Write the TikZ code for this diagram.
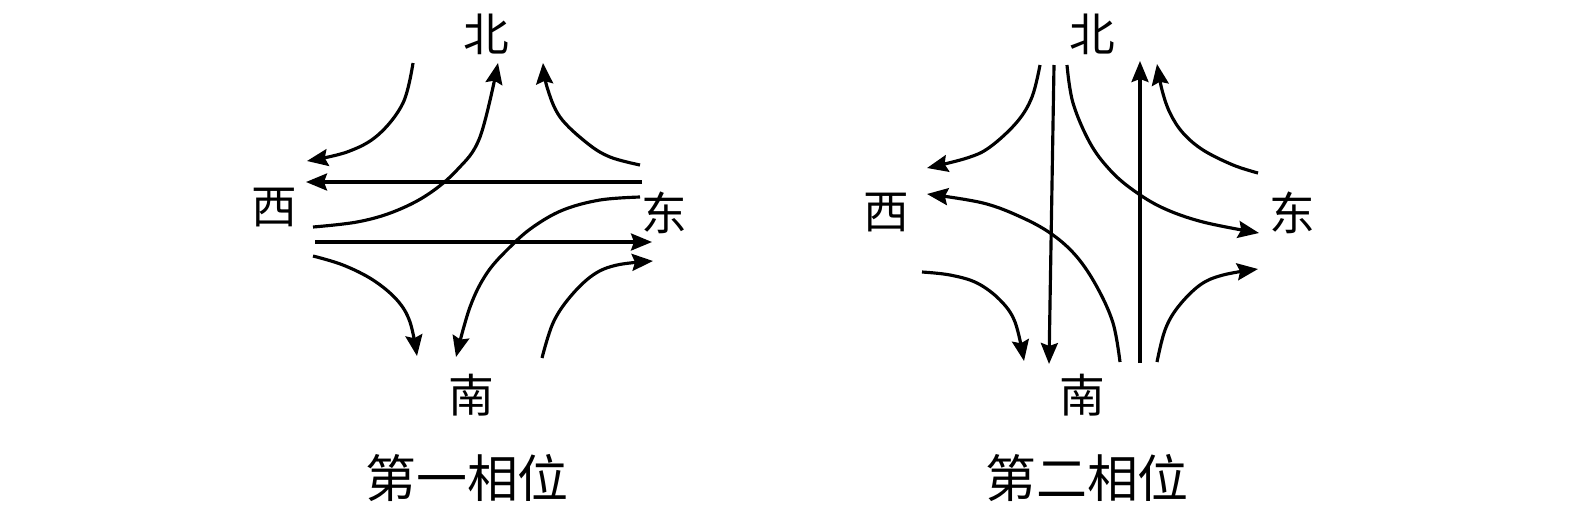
\documentclass[tikz,border=0pt]{standalone}
\usepackage{fontspec}
\newfontfamily\cjk{Noto Sans CJK SC}
\usetikzlibrary{arrows.meta}
\begin{document}
\begin{tikzpicture}[x=0.02cm,y=-0.02cm,
  flow/.style={line width=1.8pt,-{Stealth[length=0.42cm,width=0.34cm,inset=0.06cm]}},
  dirlabel/.style={font=\cjk\fontsize{26}{26}\selectfont,inner sep=0pt},
  phaselabel/.style={font=\cjk\fontsize{29}{29}\selectfont,inner sep=0pt}]
\useasboundingbox (0,0) rectangle (1575,511);
% ---------- left: phase 1 ----------
\node[dirlabel] (n1) at (486,34) {北};
\node[dirlabel] (w1) at (274,208) {西};
\node[dirlabel] (e1) at (664,213) {东};
\node[dirlabel] (s1) at (471,395) {南};
\node[phaselabel] (c1) at (467,478) {第一相位};
\coordinate (a1s) at (413,63);  \coordinate (a1e) at (307,161);
\coordinate (a2s) at (642,182); \coordinate (a2e) at (306,182);
\coordinate (a3s) at (313,227); \coordinate (a3e) at (498,63);
\coordinate (a4s) at (640,165); \coordinate (a4e) at (543,63);
\coordinate (a5s) at (315,242); \coordinate (a5e) at (652,242);
\coordinate (a6s) at (640,197); \coordinate (a6e) at (456,357);
\coordinate (a7s) at (313,256); \coordinate (a7e) at (417,356);
\coordinate (a8s) at (542,358); \coordinate (a8e) at (653,261);
\draw[flow] plot[smooth,tension=0.6] coordinates {(a1s) (403,103) (378,135) (347,152) (a1e)};
\draw[flow] (a2s) -- (a2e);
\draw[flow] plot[smooth,tension=0.6] coordinates {(a3s) (357,222) (393,212) (427,195) (457,170) (480,137) (a3e)};
\draw[flow] plot[smooth,tension=0.6] coordinates {(a4s) (610,157) (587,143) (560,117) (547,87) (a4e)};
\draw[flow] (a5s) -- (a5e);
\draw[flow] plot[smooth,tension=0.6] coordinates {(a6s) (600,200) (563,210) (533,227) (510,247) (487,273) (470,307) (a6e)};
\draw[flow] plot[smooth,tension=0.6] coordinates {(a7s) (343,265) (373,280) (397,300) (410,322) (a7e)};
\draw[flow] plot[smooth,tension=0.6] coordinates {(a8s) (553,323) (570,297) (593,275) (617,265) (a8e)};
% ---------- right: phase 2 ----------
\node[dirlabel] (n2) at (1092,34) {北};
\node[dirlabel] (w2) at (886,213) {西};
\node[dirlabel] (e2) at (1292,213) {东};
\node[dirlabel] (s2) at (1082,395) {南};
\node[phaselabel] (c2) at (1087,478) {第二相位};
\coordinate (b1s) at (1040,65);  \coordinate (b1e) at (927,168);
\coordinate (b2s) at (1054,65);  \coordinate (b2e) at (1049,364);
\coordinate (b3s) at (1067,65);  \coordinate (b3e) at (1259,233);
\coordinate (b4s) at (1120,362); \coordinate (b4e) at (927,194);
\coordinate (b5s) at (1140,363); \coordinate (b5e) at (1140,61);
\coordinate (b6s) at (1258,173); \coordinate (b6e) at (1157,64);
\coordinate (b7s) at (922,272);  \coordinate (b7e) at (1024,361);
\coordinate (b8s) at (1157,362); \coordinate (b8e) at (1258,269);
\draw[flow] plot[smooth,tension=0.6] coordinates {(b1s) (1032,97) (1017,122) (990,147) (967,158) (b1e)};
\draw[flow] (b2s) -- (b2e);
\draw[flow] plot[smooth,tension=0.6] coordinates {(b3s) (1073,103) (1090,143) (1110,170) (1133,190) (1163,208) (1203,222) (b3e)};
\draw[flow] plot[smooth,tension=0.6] coordinates {(b4s) (1113,323) (1097,287) (1077,257) (1053,235) (1023,218) (983,203) (b4e)};
\draw[flow] (b5s) -- (b5e);
\draw[flow] plot[smooth,tension=0.6] coordinates {(b6s) (1233,165) (1203,150) (1183,133) (1170,113) (1162,90) (b6e)};
\draw[flow] plot[smooth,tension=0.6] coordinates {(b7s) (950,275) (977,283) (1000,300) (1015,322) (b7e)};
\draw[flow] plot[smooth,tension=0.6] coordinates {(b8s) (1165,330) (1178,307) (1200,285) (1223,275) (b8e)};
\end{tikzpicture}
\end{document}
